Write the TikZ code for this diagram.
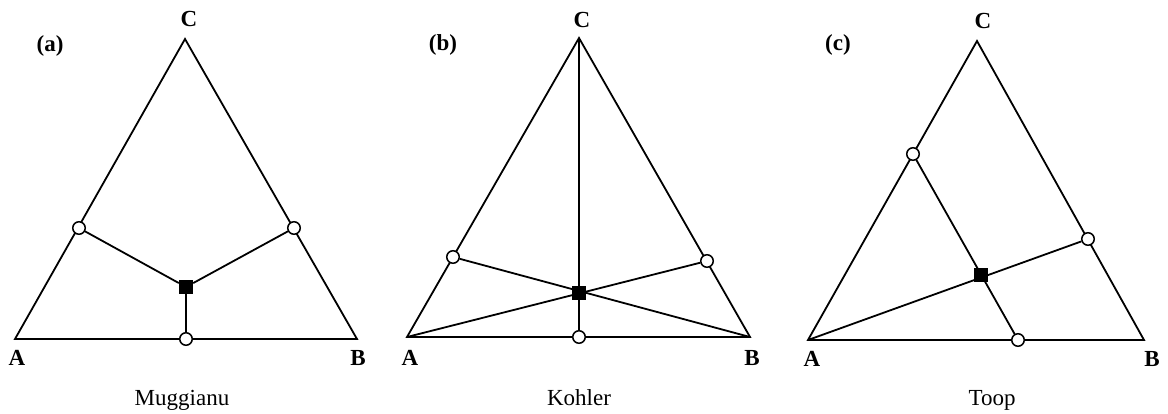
\documentclass[tikz,border=0pt]{standalone}
\usepackage{fontspec}
\setmainfont{Liberation Serif}
\usetikzlibrary{backgrounds}
\begin{document}
\begin{tikzpicture}[x=1pt,y=-1pt,
  edge/.style={line width=1.8pt, line join=miter},
  opendot/.style={circle,draw,line width=1.5pt,fill=white,inner sep=0pt,minimum size=12.5pt},
  soliddot/.style={rectangle,fill=black,inner sep=0pt,minimum size=14pt},
  vlabel/.style={font=\fontsize{23}{26}\selectfont\bfseries,inner sep=0pt},
  caption/.style={font=\fontsize{23}{27}\selectfont,anchor=base,inner sep=0pt}]
\useasboundingbox (0,0) rectangle (1168,413);

% ---------- (a) Muggianu ----------
\coordinate (aA) at (15,339);
\coordinate (aB) at (357,339);
\coordinate (aC) at (185,39);
\node[opendot] (a1) at (79,228) {};
\node[opendot] (a2) at (294,228) {};
\node[opendot] (a3) at (186,339) {};
\node[soliddot] (aM) at (186,287) {};
\begin{scope}[on background layer]
  \draw[edge] (aA) -- (aB) -- (aC) -- cycle;
\end{scope}
\draw[edge] (a1) -- (aM);
\draw[edge] (a2) -- (aM);
\draw[edge] (a3) -- (aM);
\node[vlabel] (aLA) at (17,358) {A};
\node[vlabel] (aLB) at (358,358) {B};
\node[vlabel] (aLC) at (189,19) {C};
\node[vlabel] (aTag) at (50,46) {(a)};
\node[caption] (aCap) at (182,405) {Muggianu};

% ---------- (b) Kohler ----------
\coordinate (bA) at (407,337);
\coordinate (bB) at (750,337);
\coordinate (bC) at (579,38);
\node[opendot] (b1) at (453,257) {};
\node[opendot] (b2) at (707,261) {};
\node[opendot] (b3) at (579,337) {};
\node[soliddot] (bM) at (579,293) {};
\begin{scope}[on background layer]
  \draw[edge] (bA) -- (bB) -- (bC) -- cycle;
  \draw[edge] (bA) -- (b2);
  \draw[edge] (bB) -- (b1);
  \draw[edge] (bC) -- (b3);
\end{scope}
\node[vlabel] (bLA) at (410,358) {A};
\node[vlabel] (bLB) at (752,358) {B};
\node[vlabel] (bLC) at (582,20) {C};
\node[vlabel] (bTag) at (443,45) {(b)};
\node[caption] (bCap) at (579,405) {Kohler};

% ---------- (c) Toop ----------
\coordinate (cA) at (808,340);
\coordinate (cB) at (1144,340);
\coordinate (cC) at (977,41);
\node[opendot] (c1) at (913,154) {};
\node[opendot] (c2) at (1088,239) {};
\node[opendot] (c3) at (1018,340) {};
\node[soliddot] (cM) at (981,275) {};
\begin{scope}[on background layer]
  \draw[edge] (cA) -- (cB) -- (cC) -- cycle;
  \draw[edge] (cA) -- (c2);
  \draw[edge] (c1) -- (c3);
\end{scope}
\node[vlabel] (cLA) at (812,359) {A};
\node[vlabel] (cLB) at (1152,359) {B};
\node[vlabel] (cLC) at (983,21) {C};
\node[vlabel] (cTag) at (838,45) {(c)};
\node[caption] (cCap) at (992,405) {Toop};
\end{tikzpicture}
\end{document}
